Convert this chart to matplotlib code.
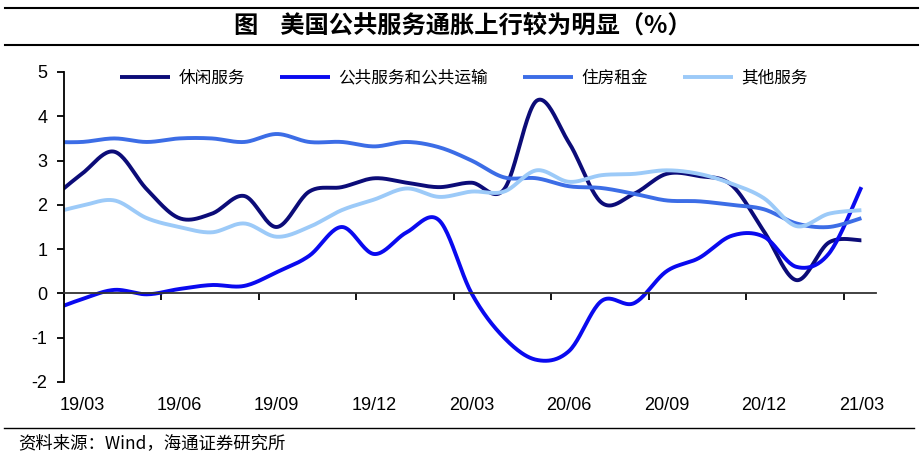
import matplotlib.pyplot as plt
from matplotlib.lines import Line2D
import numpy as np

plt.rcParams['font.family'] = ['Noto Sans CJK SC', 'DejaVu Sans']
plt.rcParams['axes.unicode_minus'] = False

# months, 19/02 .. 21/03 (19/02 only sets the slope at the left edge)
months = ['19/02', '19/03', '19/04', '19/05', '19/06', '19/07', '19/08', '19/09',
          '19/10', '19/11', '19/12', '20/01', '20/02', '20/03', '20/04', '20/05',
          '20/06', '20/07', '20/08', '20/09', '20/10', '20/11', '20/12', '21/01',
          '21/02', '21/03']

leisure = [2.1, 2.7, 3.2, 2.35, 1.7, 1.8, 2.2, 1.5, 2.3, 2.4, 2.6, 2.5, 2.4,
           2.5, 2.35, 4.35, 3.4, 2.05, 2.25, 2.7, 2.65, 2.45, 1.4, 0.3, 1.15, 1.2]
public = [-0.4, -0.13, 0.08, -0.02, 0.1, 0.19, 0.17, 0.48, 0.85, 1.5, 0.89, 1.38,
          1.65, 0.0, -1.0, -1.5, -1.3, -0.17, -0.22, 0.5, 0.8, 1.3, 1.28, 0.6, 0.9, 2.4]
rent = [3.42, 3.42, 3.5, 3.42, 3.5, 3.5, 3.42, 3.6, 3.42, 3.42, 3.32, 3.42, 3.3,
        3.0, 2.62, 2.6, 2.42, 2.38, 2.25, 2.1, 2.08, 2.0, 1.9, 1.58, 1.5, 1.7]
other = [1.8, 1.98, 2.1, 1.7, 1.5, 1.38, 1.58, 1.28, 1.5, 1.88, 2.12, 2.37, 2.18,
         2.3, 2.3, 2.78, 2.52, 2.67, 2.7, 2.78, 2.7, 2.48, 2.15, 1.52, 1.8, 1.88]

names = ['休闲服务', '公共服务和公共运输', '住房租金', '其他服务']
colors = ['#0c0c78', '#0a0aef', '#3c6de6', '#9ccaf8']


def smooth(xs, ys, n=24):
    # excel-like smoothed line (catmull-rom)
    pts = np.column_stack([xs, ys]).astype(float)
    p = np.vstack([pts[0], pts, pts[-1]])
    out = []
    t = np.linspace(0, 1, n, endpoint=False)[:, None]
    for i in range(1, len(p) - 2):
        p0, p1, p2, p3 = p[i - 1], p[i], p[i + 1], p[i + 2]
        seg = 0.5 * (2 * p1 + (-p0 + p2) * t + (2 * p0 - 5 * p1 + 4 * p2 - p3) * t ** 2
                     + (-p0 + 3 * p1 - 3 * p2 + p3) * t ** 3)
        out.append(seg)
    out.append(pts[-1:])
    return np.vstack(out)


fig = plt.figure(figsize=(9.22, 4.70), dpi=100)
ax = fig.add_axes([64 / 922, 88 / 470, 812 / 922, 310 / 470])

x = np.arange(len(months))
for ys, name, c in zip([leisure, public, rent, other], names, colors):
    s = smooth(x, ys)
    ax.plot(s[:, 0], s[:, 1], color=c, lw=2.8, label=name, solid_capstyle='butt')

ax.set_xlim(0.45, 25.45)
ax.set_ylim(-2, 5)
ax.set_yticks(range(-2, 6))
ax.tick_params(axis='y', direction='out', length=5, width=1.3, pad=7, labelsize=13)
for lab in ax.get_yticklabels():
    lab.set_family(['Liberation Sans', 'DejaVu Sans'])

ax.spines['top'].set_visible(False)
ax.spines['right'].set_visible(False)
ax.spines['left'].set_linewidth(1.3)
ax.spines['bottom'].set_position(('data', 0))
ax.spines['bottom'].set_linewidth(1.3)
ax.spines['bottom'].set_color('#333333')
ax.set_xticks(np.arange(0.45, 25.4, 3))
ax.tick_params(axis='x', direction='out', length=5, width=1.3, labelbottom=False)

sec = ax.secondary_xaxis(0.0)
sec.set_xticks(x[1::3], months[1::3])
sec.tick_params(length=0, pad=11, labelsize=13)
sec.spines['bottom'].set_visible(False)
for lab in sec.get_xticklabels():
    lab.set_family(['Liberation Sans', 'DejaVu Sans'])

ax.legend(loc='center', bbox_to_anchor=(464 / 922, 1 - 78 / 470), bbox_transform=fig.transFigure,
          ncol=4, frameon=False, fontsize=12, handlelength=3.0, handletextpad=0.5,
          columnspacing=2.1)

# title with rules above and below
fig.add_artist(Line2D([5 / 922, 918 / 922], [1 - 8 / 470, 1 - 8 / 470], color='black', lw=1.5))
fig.add_artist(Line2D([5 / 922, 918 / 922], [1 - 45 / 470, 1 - 45 / 470], color='black', lw=1.5))
fig.text(463 / 922, 1 - 26 / 470, '图    美国公共服务通胀上行较为明显（%）', ha='center', va='center',
         fontsize=17.5, fontweight='bold')

fig.add_artist(Line2D([4 / 922, 914 / 922], [1 - 428 / 470, 1 - 428 / 470], color='black', lw=1.0))
fig.text(18 / 922, 1 - 443 / 470, '资料来源：Wind，海通证券研究所', ha='left', va='center', fontsize=12.5)

fig.savefig('out.png', dpi=100, facecolor='white')
